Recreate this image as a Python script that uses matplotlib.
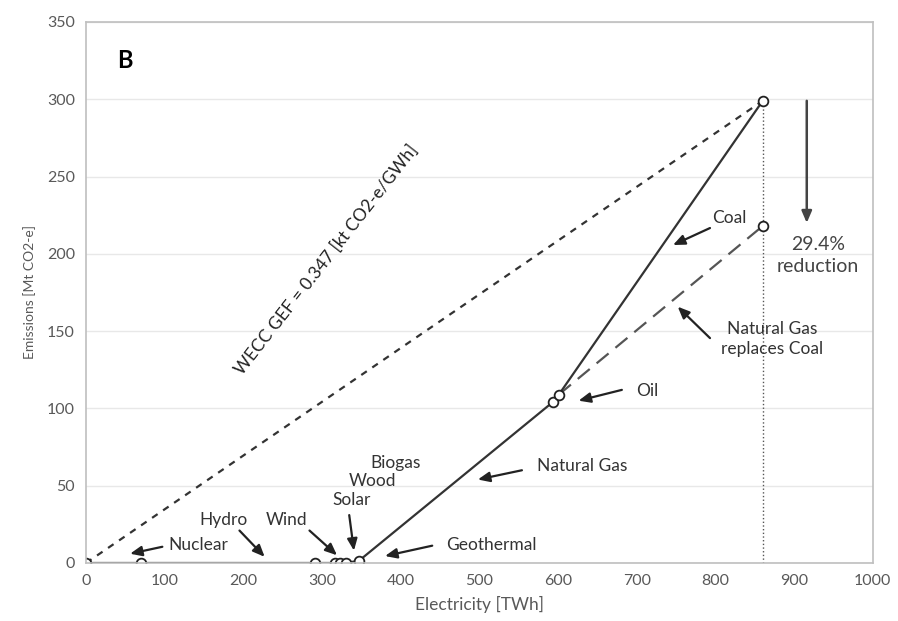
import matplotlib
matplotlib.use('Agg')
import matplotlib.pyplot as plt

plt.rcParams['font.family'] = ['Lato', 'DejaVu Sans']

# cumulative electricity [TWh] and emissions [Mt CO2-e] along the merit order
elec = [0, 70, 291, 316, 323, 330, 347, 593, 601, 860]
emis = [0, 0, 0, 0, 0, 0, 1.5, 104, 109, 299]

# coal replaced by natural gas
ng_elec = [601, 860]
ng_emis = [109, 218]

gef = 0.347
gef_elec = [0, 860]
gef_emis = [0, 299]

xticks = list(range(0, 1001, 100))
yticks = list(range(0, 351, 50))

# source labels: text, text position
labels = [
    ('Nuclear', (143, 11.6)),
    ('Hydro', (175, 28)),
    ('Wind', (255, 28)),
    ('Solar', (338, 41)),
    ('Wood', (364, 53)),
    ('Biogas', (393, 64.5)),
    ('Geothermal', (515, 11.6)),
    ('Natural Gas', (630, 63)),
    ('Oil', (713, 111)),
    ('Coal', (818, 223)),
    ('Natural Gas\nreplaces Coal', (872, 145)),
]

# pointer arrows: tail, head
arrows = [
    ((97, 10.5), (56, 6)),
    ((195, 21), (227, 4)),
    ((284, 21), (319, 5)),
    ((334.5, 31), (340.5, 8)),
    ((440, 11.2), (380, 4.5)),
    ((554, 60), (498, 54)),
    ((681, 112), (626, 105)),
    ((793, 216.7), (746, 205.7)),
    ((793, 145.5), (752, 165.8)),
]

fig = plt.figure(figsize=(8.98, 6.21), dpi=100)
ax = fig.add_axes([0.0958, 0.0934, 0.8762, 0.8712])

ax.set_xlim(0, 1000)
ax.set_ylim(0, 350)
ax.set_xticks(xticks)
ax.set_yticks(yticks)
ax.tick_params(length=0, labelsize=11.5, labelcolor='#595959', pad=8)
for s in ax.spines.values():
    s.set_color('#bfbfbf')
    s.set_linewidth(1.2)
ax.grid(axis='y', color='#e8e8e8', lw=1)
ax.set_axisbelow(True)

# dotted line marking total demand
ax.plot([gef_elec[1], gef_elec[1]], [0, gef_emis[1]], ls=':', color='#555555', lw=1)

ax.plot(gef_elec, gef_emis, ls=(0, (3, 3)), color='#333333', lw=1.6)
ax.plot(ng_elec, ng_emis, ls=(0, (7, 4)), color='#555555', lw=1.6)
ax.plot(elec, emis, color='#333333', lw=1.6, marker='o', ms=7,
        mfc='white', mec='#222222', mew=1.3)
ax.plot(ng_elec[1], ng_emis[1], marker='o', ms=7, mfc='white', mec='#222222', mew=1.3)

for txt, pos in labels:
    ax.text(pos[0], pos[1], txt, ha='center', va='center', fontsize=12.5, color='#333333',
            linespacing=1.3)

for tail, head in arrows:
    ax.annotate('', xy=head, xytext=tail,
                arrowprops=dict(arrowstyle='-|>,head_length=0.7,head_width=0.3',
                                color='#222222', lw=1.6, shrinkA=0, shrinkB=0))

ax.text(306, 196, 'WECC GEF = %.3f [kt CO2-e/GWh]' % gef, rotation=52,
        rotation_mode='anchor', ha='center', va='center', fontsize=12.5, color='#222222')

# reduction arrow from coal case to gas case
ax.annotate('', xy=(916, 220), xytext=(916, 299),
            arrowprops=dict(arrowstyle='-|>,head_length=0.7,head_width=0.3',
                            color='#444444', lw=1.8, shrinkA=0, shrinkB=0))
ax.text(930, 206, '29.4%', ha='center', va='center', fontsize=14, color='#444444')
ax.text(930, 192, 'reduction', ha='center', va='center', fontsize=14, color='#444444')

ax.text(50, 325, 'B', ha='center', va='center', fontsize=17, fontweight='bold', color='black')

ax.set_xlabel('Electricity [TWh]', fontsize=12.5, color='#595959', labelpad=6)
ax.set_ylabel('Emissions [Mt CO2-e]', fontsize=10, color='#595959', labelpad=8)

fig.savefig('out.png', dpi=100)
